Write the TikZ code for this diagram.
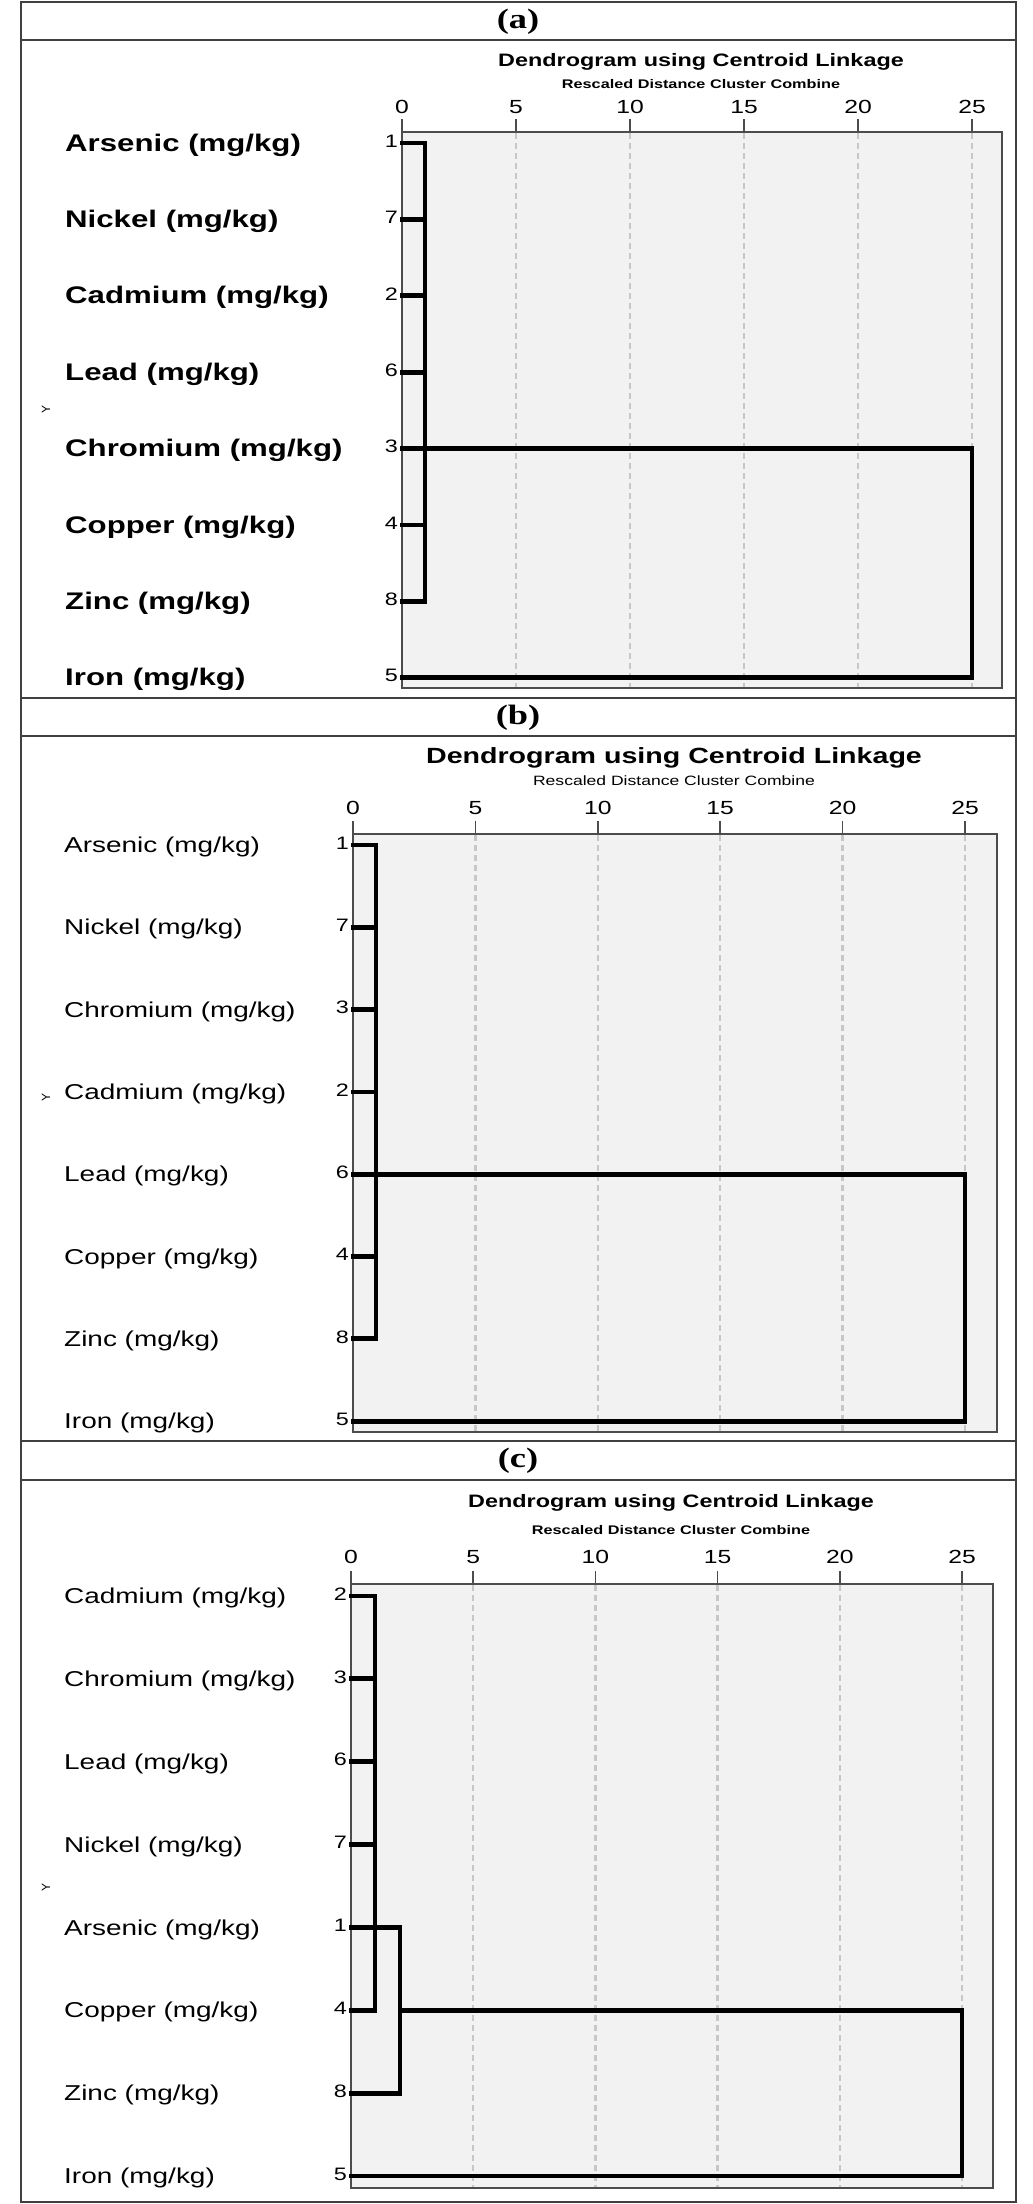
\documentclass[tikz,border=0pt]{standalone}
\usepackage{fontspec}
\setmainfont{Liberation Sans}
\newfontfamily\serifb{Liberation Serif}
\usepackage{graphicx}
\newcommand{\sx}[1]{\scalebox{1.3}[1]{#1}}
\begin{document}
\begin{tikzpicture}[x=1pt,y=-1pt,
  frame/.style={draw=black!75,line width=1.5pt},
  plotbox/.style={draw=black!70,line width=1.2pt,fill=black!5},
  gridl/.style={draw=black!22,line width=2.5pt,dash pattern=on 6pt off 4pt},
  tickl/.style={draw=black!70,line width=1.5pt},
  link/.style={draw=black,line width=4.8pt,line cap=rect,line join=miter},
  hdr/.style={font=\fontsize{28}{32}\selectfont\serifb\bfseries,inner sep=0},
  lblb/.style={anchor=west,inner sep=0,font=\fontsize{24}{28}\selectfont\bfseries},
  lbl/.style={anchor=west,inner sep=0,font=\fontsize{21.5}{26}\selectfont},
  num/.style={anchor=east,inner sep=0,font=\fontsize{18}{22}\selectfont},
  axn/.style={inner sep=0,font=\fontsize{19}{22}\selectfont},
  ymark/.style={inner sep=0,rotate=90,font=\fontsize{12}{14}\selectfont}]
\useasboundingbox (0,0) rectangle (1033,2204);
\fill[white] (0,0) rectangle (1033,2204);
% frames
\draw[frame] (21,2) rectangle (1016,2202);
\draw[frame] (21,40) -- (1016,40);
\draw[frame] (21,698) -- (1016,698);
\draw[frame] (21,736) -- (1016,736);
\draw[frame] (21,1441) -- (1016,1441);
\draw[frame] (21,1480) -- (1016,1480);
\node[hdr] (ha) at (518,22) {\sx{(a)}};
\node[hdr] (hb) at (518,718) {\sx{(b)}};
\node[hdr] (hc) at (518,1461) {\sx{(c)}};

% ================= Panel (a)
\node[inner sep=0,font=\fontsize{18}{22}\selectfont\bfseries] (ta) at (701,62) {\sx{Dendrogram using Centroid Linkage}};
\node[inner sep=0,font=\fontsize{12.5}{15}\selectfont\bfseries] (sa) at (701,84) {\sx{Rescaled Distance Cluster Combine}};
\draw[plotbox] (402,132) rectangle (1002,688);
\foreach \k in {1,...,5} \draw[gridl] ({402+\k*114},133) -- ({402+\k*114},687);
\foreach \k/\t in {0/0,1/5,2/10,3/15,4/20,5/25} {
  \draw[tickl] ({402+\k*114},119) -- ({402+\k*114},132);
  \node[axn] (aax\k) at ({402+\k*114},107) {\sx{\t}};}
\foreach \n/\c [count=\i from 0] in {Arsenic/1,Nickel/7,Cadmium/2,Lead/6,Chromium/3,Copper/4,Zinc/8,Iron/5} {
  \node[lblb] (al\i) at (65,{145+76.4*\i}) {\sx{\n\ (mg/kg)}};
  \node[num] (an\i) at (398,{141+76.4*\i}) {\sx{\c}};
  \coordinate (a\i) at (402,{143+76.4*\i});
  \coordinate (am\i) at (425,{143+76.4*\i});
  \coordinate (ar\i) at (972,{143+76.4*\i});}
\node[ymark] (ya) at (46,409) {Y};
\draw[link] (a0) -- (am0) -- (am6) -- (a6);
\foreach \i in {1,2,3,4,5} \draw[link] (a\i) -- (am\i);
\draw[link] (am4) -- (ar4) -- (ar7) -- (a7);

% ================= Panel (b)
\node[inner sep=0,font=\fontsize{22}{26}\selectfont\bfseries] (tb) at (674,758) {\sx{Dendrogram using Centroid Linkage}};
\node[inner sep=0,font=\fontsize{13.5}{16}\selectfont] (sb) at (674,781) {\sx{Rescaled Distance Cluster Combine}};
\draw[plotbox] (353,834) rectangle (997,1432);
\foreach \k in {1,...,5} \draw[gridl] ({353+\k*122.4},835) -- ({353+\k*122.4},1431);
\foreach \k/\t in {0/0,1/5,2/10,3/15,4/20,5/25} {
  \draw[tickl] ({353+\k*122.4},821) -- ({353+\k*122.4},834);
  \node[axn] (bax\k) at ({353+\k*122.4},808) {\sx{\t}};}
\foreach \n/\c [count=\i from 0] in {Arsenic/1,Nickel/7,Chromium/3,Cadmium/2,Lead/6,Copper/4,Zinc/8,Iron/5} {
  \node[lbl] (bl\i) at (64,{847+82.3*\i}) {\sx{\n\ (mg/kg)}};
  \node[num] (bn\i) at (349,{843+82.3*\i}) {\sx{\c}};
  \coordinate (b\i) at (353,{845+82.3*\i});
  \coordinate (bm\i) at (376,{845+82.3*\i});
  \coordinate (br\i) at (965,{845+82.3*\i});}
\node[ymark] (yb) at (46,1097) {Y};
\draw[link] (b0) -- (bm0) -- (bm6) -- (b6);
\foreach \i in {1,2,3,4,5} \draw[link] (b\i) -- (bm\i);
\draw[link] (bm4) -- (br4) -- (br7) -- (b7);

% ================= Panel (c)
\node[inner sep=0,font=\fontsize{18}{22}\selectfont\bfseries] (tc) at (671,1503) {\sx{Dendrogram using Centroid Linkage}};
\node[inner sep=0,font=\fontsize{12.5}{15}\selectfont\bfseries] (sc) at (671,1530) {\sx{Rescaled Distance Cluster Combine}};
\draw[plotbox] (351,1584) rectangle (993,2188);
\foreach \k in {1,...,5} \draw[gridl] ({351+\k*122.2},1585) -- ({351+\k*122.2},2187);
\foreach \k/\t in {0/0,1/5,2/10,3/15,4/20,5/25} {
  \draw[tickl] ({351+\k*122.2},1571) -- ({351+\k*122.2},1584);
  \node[axn] (cax\k) at ({351+\k*122.2},1557) {\sx{\t}};}
\foreach \n/\c [count=\i from 0] in {Cadmium/2,Chromium/3,Lead/6,Nickel/7,Arsenic/1,Copper/4,Zinc/8,Iron/5} {
  \node[lbl] (cl\i) at (64,{1598+82.86*\i}) {\sx{\n\ (mg/kg)}};
  \node[num] (cn\i) at (347,{1594+82.86*\i}) {\sx{\c}};
  \coordinate (c\i) at (351,{1596+82.86*\i});
  \coordinate (cm\i) at (375,{1596+82.86*\i});
  \coordinate (cq\i) at (400,{1596+82.86*\i});
  \coordinate (cr\i) at (962,{1596+82.86*\i});}
\node[ymark] (yc) at (46,1887) {Y};
\draw[link] (c0) -- (cm0) -- (cm5) -- (c5);
\foreach \i in {1,2,3} \draw[link] (c\i) -- (cm\i);
\draw[link] (c4) -- (cq4) -- (cq6) -- (c6);
\draw[link] (cq5) -- (cr5) -- (cr7) -- (c7);
\end{tikzpicture}
\end{document}
